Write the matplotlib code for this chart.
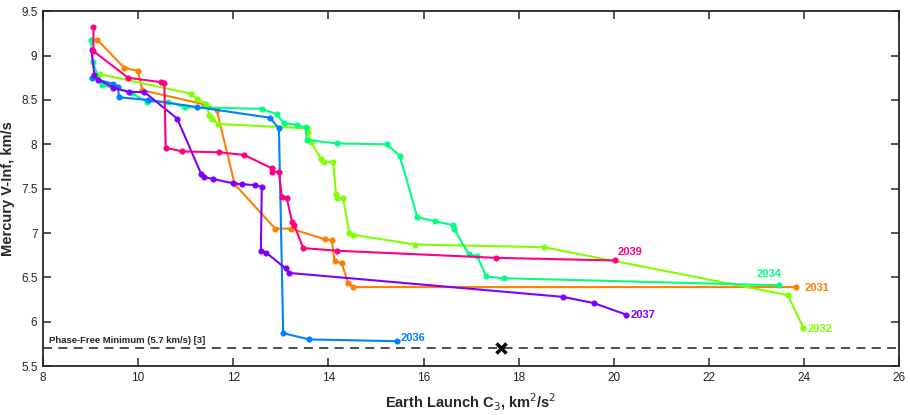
import matplotlib
matplotlib.use('Agg')
import matplotlib.pyplot as plt
from matplotlib.ticker import FuncFormatter

plt.rcParams['font.family'] = ['Liberation Sans', 'DejaVu Sans']

# launch year trade curves: C3 (km2/s2) vs Mercury v-inf (km/s)
c3_2031 = [9.14, 9.71, 9.99, 10.09, 11.39, 11.65, 12.03, 12.88, 13.21, 13.92, 14.07,
           14.13, 14.28, 14.41, 14.52, 23.83]
vinf_2031 = [9.18, 8.86, 8.83, 8.61, 8.45, 8.39, 7.55, 7.05, 7.05, 6.93, 6.92,
             6.68, 6.66, 6.44, 6.39, 6.39]

c3_2032 = [9.20, 11.12, 11.23, 11.42, 11.50, 11.56, 11.67, 13.54, 13.57, 13.63, 13.85,
           13.90, 14.10, 14.16, 14.18, 14.31, 14.44, 14.52, 15.82, 18.53, 23.66, 23.99]
vinf_2032 = [8.79, 8.57, 8.51, 8.46, 8.33, 8.29, 8.23, 8.18, 8.14, 8.03, 7.83,
             7.80, 7.80, 7.44, 7.40, 7.39, 7.00, 6.98, 6.87, 6.84, 6.30, 5.93]

c3_2034 = [9.01, 9.04, 9.23, 9.86, 10.18, 10.63, 10.98, 12.60, 12.91, 13.06, 13.33,
           13.53, 13.54, 14.18, 15.23, 15.50, 15.87, 16.24, 16.62, 16.64, 16.95, 17.13,
           17.32, 17.69, 23.48]
vinf_2034 = [9.18, 8.93, 8.67, 8.58, 8.48, 8.48, 8.42, 8.40, 8.34, 8.24, 8.22,
             8.19, 8.05, 8.01, 8.00, 7.87, 7.18, 7.13, 7.09, 7.05, 6.76, 6.74,
             6.51, 6.49, 6.41]

c3_2036 = [9.02, 9.48, 9.57, 9.60, 10.21, 11.24, 12.77, 12.96, 13.05, 13.60, 15.44]
vinf_2036 = [8.75, 8.68, 8.65, 8.53, 8.50, 8.42, 8.30, 8.18, 5.87, 5.80, 5.78]

c3_2037 = [9.02, 9.08, 9.16, 9.48, 9.81, 10.13, 10.82, 11.33, 11.38, 11.57, 12.00,
           12.19, 12.45, 12.60, 12.58, 12.69, 13.10, 13.17, 18.93, 19.58, 20.26]
vinf_2037 = [9.06, 8.78, 8.73, 8.64, 8.59, 8.59, 8.29, 7.66, 7.63, 7.61, 7.56,
             7.55, 7.54, 7.52, 6.80, 6.78, 6.60, 6.55, 6.28, 6.21, 6.08]

c3_2039 = [9.06, 9.06, 9.79, 10.49, 10.55, 10.58, 10.93, 11.70, 12.23, 12.81, 12.82,
           12.96, 13.02, 13.12, 13.24, 13.28, 13.47, 14.19, 17.53, 20.03]
vinf_2039 = [9.32, 9.05, 8.75, 8.70, 8.69, 7.96, 7.92, 7.91, 7.88, 7.73, 7.69,
             7.69, 7.41, 7.40, 7.12, 7.09, 6.83, 6.80, 6.72, 6.69]

phase_free_min = 5.7
x_mark_c3 = 17.64

series = [
    ('2031', c3_2031, vinf_2031, '#ff8000', (6, -1), 'left'),
    ('2032', c3_2032, vinf_2032, '#80ff00', (3, -1), 'left'),
    ('2034', c3_2034, vinf_2034, '#00ff80', (-7, 8), 'center'),
    ('2036', c3_2036, vinf_2036, '#0080ff', (3, 2), 'left'),
    ('2037', c3_2037, vinf_2037, '#8000ff', (3, 0), 'left'),
    ('2039', c3_2039, vinf_2039, '#ff0080', (2, 6), 'left'),
]

fig = plt.figure(figsize=(9.1, 4.15), dpi=100)
ax = fig.add_axes([0.0473, 0.118, 0.9407, 0.8548])

for name, x, y, col, off, ha in series:
    ax.plot(x, y, '-o', color=col, lw=1.5, ms=3.4)
    ax.annotate(name, (x[-1], y[-1]), xytext=off, textcoords='offset points',
                color=col, fontsize=8, fontweight='bold', ha=ha, va='center')

ax.axhline(phase_free_min, color='#404040', lw=1.3, ls=(0, (5, 3.5)))
ax.plot(x_mark_c3, phase_free_min, 'x', color='k', ms=7, mew=2.5)
ax.text(8.13, 5.79, 'Phase-Free Minimum (5.7 km/s) [3]', fontsize=6.8,
        fontweight='bold', color='#262626', va='center')

ax.set_xlim(8, 26)
ax.set_ylim(5.5, 9.5)
ax.set_xticks(range(8, 27, 2))
ax.set_yticks([5.5, 6, 6.5, 7, 7.5, 8, 8.5, 9, 9.5])
ax.yaxis.set_major_formatter(FuncFormatter(lambda v, p: '%g' % v))
ax.tick_params(direction='in', top=True, right=True, length=6, width=1.1,
               labelsize=8.5, colors='#262626', pad=4)
for s in ax.spines.values():
    s.set_linewidth(1.3)
    s.set_color('#262626')

ax.set_xlabel('Earth Launch C$_3$, km$^2$/s$^2$', fontsize=10.5, fontweight='bold',
              color='#262626', labelpad=6)
ax.set_ylabel('Mercury V-Inf, km/s', fontsize=10.5, fontweight='bold',
              color='#262626', labelpad=4)

fig.savefig('out.png', dpi=100)
